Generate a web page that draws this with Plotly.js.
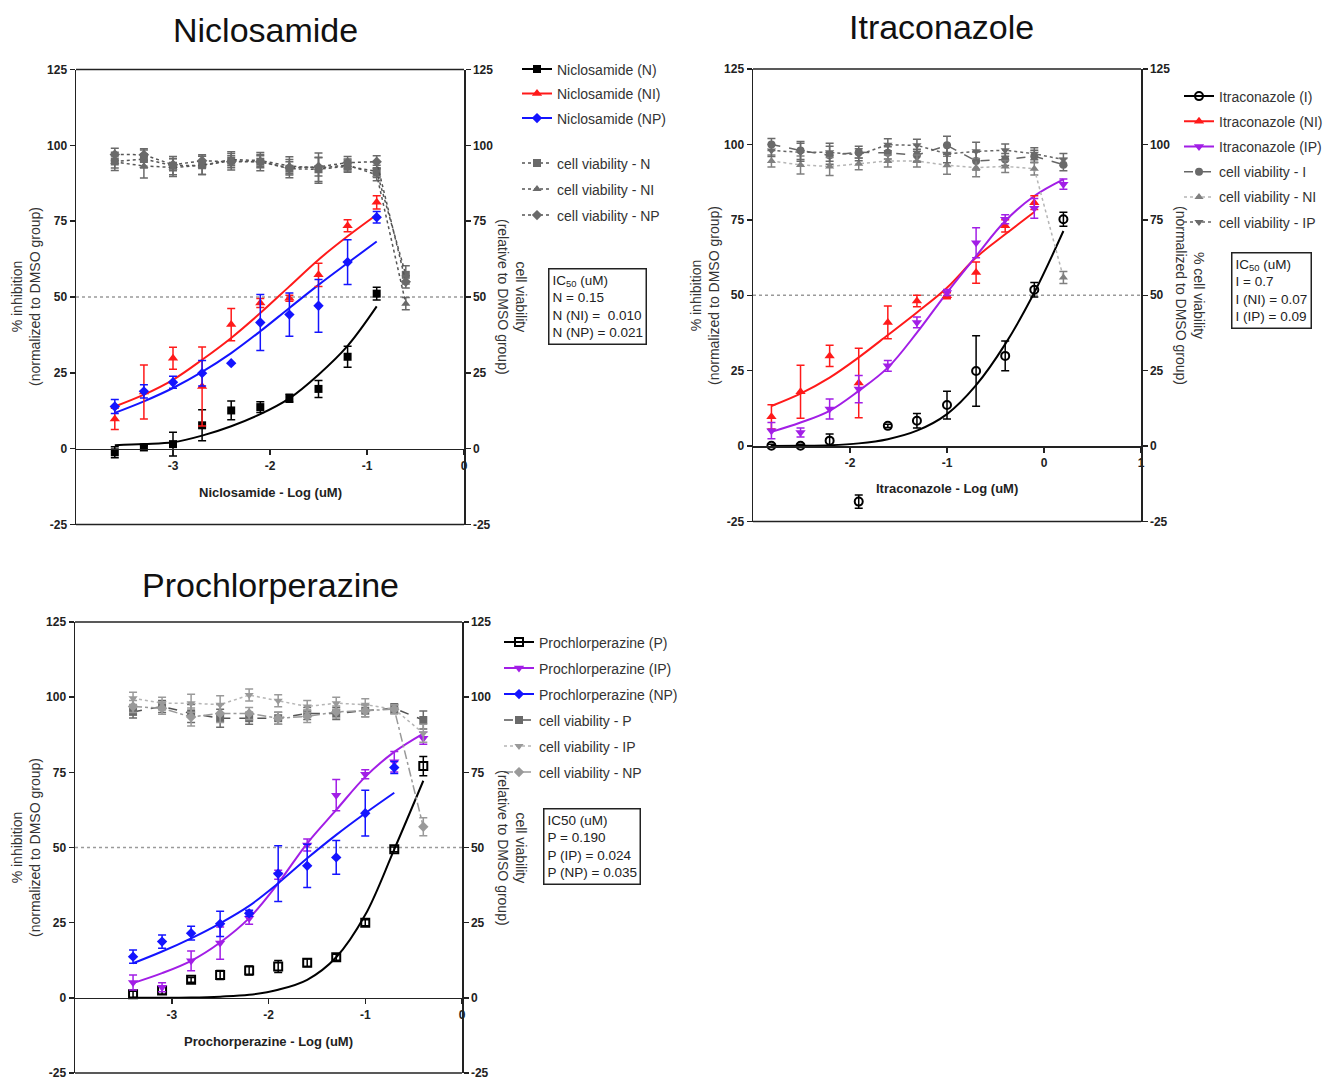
<!DOCTYPE html>
<html><head><meta charset="utf-8">
<script src="https://cdn.plot.ly/plotly-3.0.1.min.js"></script>
<style>body{margin:0;background:#fff}#chart{width:1333px;height:1084px}</style>
</head><body><div id="chart"></div>
<script>
// ---------------- Niclosamide ----------------
const nicX = [-3.6,-3.3,-3.0,-2.7,-2.4,-2.1,-1.8,-1.5,-1.2,-0.9];
const nicViabX = [-3.6,-3.3,-3.0,-2.7,-2.4,-2.1,-1.8,-1.5,-1.2,-0.9,-0.6];
const nicN = [-1.2,0.4,1.5,7.7,12.6,13.7,16.6,19.7,30.3,51.1];
const nicNErr = [1.8,0.6,3.9,5.1,3.1,1.8,1.3,2.8,3.5,2.1];
const nicNI = [9.8,18.7,29.8,20.5,40.9,48.0,49.6,57.3,73.5,81.2];
const nicNIErr = [3.5,8.9,3.6,13.0,5.3,1.5,1.0,3.8,2.0,2.2];
const nicNP = [13.9,18.9,21.9,24.9,28.2,41.6,44.2,47.1,61.5,76.3];
const nicNPErr = [2.3,2.2,2.0,4.2,0,9.2,7.1,8.7,7.4,1.9];
const nicNFit = [1.1,1.5,2.1,4.3,7.4,11.4,16.6,24.4,33.9,46.9];
const nicNIFit = [13.9,17.8,22.7,29.3,36.5,44.7,53.5,62.3,70.0,77.1];
const nicNPFit = [11.8,15.6,20.0,25.3,31.5,38.7,46.4,54.0,61.2,68.3];
const nicViabN = [94.7,95.5,93.3,93.4,94.9,94.6,92.3,92.1,93.1,91.4,57.3];
const nicViabNI = [94.5,93.2,92.7,93.4,95.3,95.0,93.2,92.5,93.5,90.3,47.8];
const nicViabNP = [97.0,96.9,93.6,94.9,94.6,94.6,92.6,92.9,94.3,94.6,55.0];
const nicViabNErr = [3,3,3,3,3,3,3,4,2,2,3];
const nicViabNIErr = [2,4,3,3,2,2,3,5,2,2,2];
const nicViabNPErr = [2,2,2,2,2,2,2,3,2,2,2];

// ---------------- Itraconazole ----------------
const itrX = [-2.81,-2.51,-2.21,-1.91,-1.61,-1.31,-1.0,-0.7,-0.4,-0.1,0.2];
const itrXNI = [-2.81,-2.51,-2.21,-1.91,-1.61,-1.31,-1.0,-0.7,-0.4,-0.1];
const itrI = [0.1,0.1,1.8,-18.4,6.7,8.4,13.6,24.9,29.9,51.8,75.2];
const itrIErr = [0.5,0.5,2.2,2.2,0.5,2.4,4.6,11.7,4.9,2.4,2.3];
const itrNI = [9.7,18.0,29.9,20.9,41.0,48.1,49.8,57.5,73.0,80.7];
const itrNIErr = [4.0,8.8,3.5,11.5,5.4,1.9,1.0,3.5,2.0,2.3];
const itrIP = [5.1,4.5,12.3,18.9,26.6,41.0,50.9,67.4,75.2,78.8,86.8];
const itrIPErr = [2.7,1.5,3.3,4.5,1.8,1.8,1.0,5.0,1.5,3.3,1.7];
const itrIFit = [0,0.1,0.3,0.9,2.3,5.1,10.6,20.2,33.8,50.9,71.3];
const itrNIFit = [13.3,17.4,22.7,29.4,36.8,44.3,52.5,62.5,70.2,77.6];
const itrIPFit = [4.7,7.8,11.7,18.3,26.0,37.6,50.9,63.0,74.6,82.9,88.4];
const itrViabI = [100.0,98.0,96.4,97.4,97.2,96.4,99.7,94.5,95.0,96.1,93.3];
const itrViabNI = [94.5,93.2,92.7,93.6,94.5,94.5,93.1,92.3,92.7,91.9,55.9];
const itrViabIP = [98.0,97.4,97.4,96.6,99.9,99.7,96.9,97.7,98.1,96.9,95.0];
const itrViabErr = [2,3,3,2,2,2,3,3,2,2,2];

// ---------------- Prochlorperazine ----------------
const proX = [-3.4,-3.1,-2.8,-2.5,-2.2,-1.9,-1.6,-1.3,-1.0,-0.7,-0.4];
const proXNP = [-3.4,-3.1,-2.8,-2.5,-2.2,-1.9,-1.6,-1.3,-1.0,-0.7];
const proP = [1.2,2.4,6.0,7.6,9.1,10.4,11.7,13.5,25.0,49.4,77.1];
const proPErr = [1.0,1.2,0.8,1.5,1.5,2.0,1.3,1.0,1.0,0.8,3.2];
const proIP = [5.1,3.5,12.3,18.2,26.5,40.9,50.8,67.4,74.4,78.5,86.3];
const proIPErr = [2.5,1.5,3.3,5.4,2.0,1.5,2.0,5.2,1.5,3.4,2.0];
const proNP = [13.7,18.7,21.5,24.6,28.1,41.3,43.9,46.7,61.4,76.6];
const proNPErr = [2.2,2.2,2.3,4.2,1.0,9.3,7.2,5.6,7.6,2.0];
const proPFit = [0,0,0.1,0.4,1.0,2.7,6.0,13.5,27.6,49.4,72.2];
const proIPFit = [4.9,8.2,12.3,18.4,26.5,38.1,51.4,62.5,73.5,81.8,87.9];
const proNPFit = [11.5,15.4,19.8,24.8,30.6,38.1,46.4,54.2,61.4,68.2];
const proViabP = [95.1,96.9,94.6,93.0,93.0,93.0,94.6,94.6,95.5,96.3,92.4];
const proViabIP = [99.6,98.0,98.0,97.5,100.7,98.8,96.9,98.0,97.5,96.0,88.0];
const proViabNP = [96.9,96.3,93.4,94.6,94.6,93.0,93.6,95.1,95.5,96.0,56.9];
const proViabErr = [2,2,3,3,2,2,2,2,2,1.5,3];

// tick values / labels
const yTicks = [-25,0,25,50,75,100,125];
const yTickText = ['-25','0','25','50','75','100','125'];
const xTicksA = [-3,-2,-1,0];
const xTickTextA = ['-3','-2','-1','0'];
const xTicksB = [-2,-1,0,1];
const xTickTextB = ['-2','-1','0','1'];

const W = 1333, H = 1084;
const FONT = 'Liberation Sans, Arial, sans-serif';

// points trace: interleave nulls so no connecting line but legend shows line+marker
function pts(x, y, err, name, color, symbol, size, xa, ya, legend, group, open){
  const X=[],Y=[],E=[];
  x.forEach((v,i)=>{X.push(v,v);Y.push(y[i],null);E.push(err[i],0);});
  return {type:'scatter', mode:'lines+markers', x:X, y:Y, name, xaxis:xa, yaxis:ya,
    legend, legendgroup:group, connectgaps:false,
    line:{color, width:2},
    marker:{color: open ? 'rgba(255,255,255,0)' : color, symbol, size, line:{color, width: open?2:0}},
    error_y:{type:'data', array:E, visible:true, color, thickness:1.5, width:4},
    hoverinfo:'skip'};
}
function fit(x, y, color, xa, ya){
  return {type:'scatter', mode:'lines', x, y, xaxis:xa, yaxis:ya, showlegend:false,
    line:{color, width:2, shape:'spline'}, hoverinfo:'skip'};
}
function viab(x, y, err, name, color, symbol, dash, lineColor, xa, ya, legend, group){
  return {type:'scatter', mode:'lines+markers', x, y, name, xaxis:xa, yaxis:ya, legend, legendgroup:group,
    line:{color:lineColor, width:1.5, dash},
    marker:{color, symbol, size:8},
    error_y:{type:'data', array:err, visible:true, color, thickness:1.5, width:4},
    hoverinfo:'skip'};
}

const RED='#ff1a1a', BLUE='#1414ff', PURPLE='#a21ee6', BLACK='#000000', G1='#6a6a6a', G2='#9a9a9a';

const data = [
  // panel 1
  fit(nicX, nicNFit, BLACK, 'x','y'),
  fit(nicX, nicNIFit, RED, 'x','y'),
  fit(nicX, nicNPFit, BLUE, 'x','y'),
  pts(nicX, nicN, nicNErr, 'Niclosamide (N)', BLACK, 'square', 8, 'x','y','legend','g1'),
  pts(nicX, nicNI, nicNIErr, 'Niclosamide (NI)', RED, 'triangle-up', 9, 'x','y','legend','g2'),
  pts(nicX, nicNP, nicNPErr, 'Niclosamide (NP)', BLUE, 'diamond', 8, 'x','y','legend','g3'),
  viab(nicViabX, nicViabN, nicViabNErr, 'cell viability - N', G1, 'square', 'dot', '#555', 'x','y2','legend4','g4'),
  viab(nicViabX, nicViabNI, nicViabNIErr, 'cell viability - NI', G1, 'triangle-up', 'dot', '#555', 'x','y2','legend4','g5'),
  viab(nicViabX, nicViabNP, nicViabNPErr, 'cell viability - NP', G1, 'diamond', 'dot', '#555', 'x','y2','legend4','g6'),
  // panel 2
  fit(itrX, itrIFit, BLACK, 'x2','y3'),
  fit(itrXNI, itrNIFit, RED, 'x2','y3'),
  fit(itrX, itrIPFit, PURPLE, 'x2','y3'),
  pts(itrX, itrI, itrIErr, 'Itraconazole (I)', BLACK, 'circle', 8, 'x2','y3','legend2','h1', true),
  pts(itrXNI, itrNI, itrNIErr, 'Itraconazole (NI)', RED, 'triangle-up', 9, 'x2','y3','legend2','h2'),
  pts(itrX, itrIP, itrIPErr, 'Itraconazole (IP)', PURPLE, 'triangle-down', 9, 'x2','y3','legend2','h3'),
  viab(itrX, itrViabI, itrViabErr, 'cell viability - I', G1, 'circle', 'dash', '#666', 'x2','y4','legend2','h4'),
  viab(itrX, itrViabNI, itrViabErr, 'cell viability - NI', '#808080', 'triangle-up', 'dot', '#b5b5b5', 'x2','y4','legend2','h5'),
  viab(itrX, itrViabIP, itrViabErr, 'cell viability - IP', G1, 'triangle-down', 'dot', '#666', 'x2','y4','legend2','h6'),
  // panel 3
  fit(proX, proPFit, BLACK, 'x3','y5'),
  fit(proX, proIPFit, PURPLE, 'x3','y5'),
  fit(proXNP, proNPFit, BLUE, 'x3','y5'),
  pts(proX, proP, proPErr, 'Prochlorperazine (P)', BLACK, 'square', 8, 'x3','y5','legend3','k1', true),
  pts(proX, proIP, proIPErr, 'Prochlorperazine (IP)', PURPLE, 'triangle-down', 9, 'x3','y5','legend3','k2'),
  pts(proXNP, proNP, proNPErr, 'Prochlorperazine (NP)', BLUE, 'diamond', 8, 'x3','y5','legend3','k3'),
  viab(proX, proViabP, proViabErr, 'cell viability - P', G1, 'square', 'dash', '#555', 'x3','y6','legend3','k4'),
  viab(proX, proViabIP, proViabErr, 'cell viability - IP', G2, 'triangle-down', 'dot', '#b5b5b5', 'x3','y6','legend3','k5'),
  viab(proX, proViabNP, proViabErr, 'cell viability - NP', G2, 'diamond', 'dashdot', '#999', 'x3','y6','legend3','k6'),
];

const tickFont = {family:FONT, size:12, color:'#222', weight:'bold'};
function xAxis(d0,d1,range,tickvals,ticktext,pos){
  return {domain:[d0/W,d1/W], range, tickvals, ticktext, ticks:'outside', ticklen:5, tickwidth:1.5, tickcolor:'#222',
    showline:true, linewidth:1.5, linecolor:'#222', zeroline:false, showgrid:false,
    anchor:'free', position:pos, tickfont:tickFont, fixedrange:true};
}
function yAxis(top,bot,anchor,side,overlay){
  const a = {domain:[1-bot/H,1-top/H], range:[-25,125], tickvals:yTicks, ticktext:yTickText, ticks:'outside', ticklen:5, tickwidth:1.5,
    tickcolor:'#222', showline:true, linewidth:1.5, linecolor:'#222', zeroline:false, showgrid:false,
    anchor, side, tickfont:tickFont, fixedrange:true};
  if (overlay) a.overlaying = overlay;
  return a;
}
function y0pos(top,bot){ const py = top + (bot-top)*125/150; return 1 - py/H; }

function frame(xd, yr){
  return [
    {type:'line', xref:xd, yref:yr, x0:0, x1:1, y0:50, y1:50, line:{color:'#9a9a9a', width:1.5, dash:'dot'}, layer:'below'},
    {type:'line', xref:xd, yref:yr+' domain', x0:0, x1:1, y0:1, y1:1, line:{color:'#222', width:1.5}},
    {type:'line', xref:xd, yref:yr+' domain', x0:0, x1:1, y0:0, y1:0, line:{color:'#222', width:1.5}},
  ];
}
function P(px,py){ return {x:px/W, y:1-py/H}; }
function ann(text, px, py, opts){
  return Object.assign({text, xref:'paper', yref:'paper', ...P(px,py), showarrow:false,
    xanchor:'center', yanchor:'middle'}, opts);
}
const titleFont = {family:FONT, size:34, color:'#111'};
const axTitleFont = {family:FONT, size:14, color:'#333'};
const xTitleFont = {family:FONT, size:13, color:'#222', weight:'bold'};
const boxFont = {family:FONT, size:13.5, color:'#222'};
function box(text, px, py){
  return {text, xref:'paper', yref:'paper', ...P(px,py), showarrow:false, xanchor:'left', yanchor:'top',
    align:'left', bordercolor:'#222', borderwidth:1.5, borderpad:3, bgcolor:'#fff', font:boxFont};
}
function leg(px,py,gap){
  return {x:px/W, y:1-py/H, xanchor:'left', yanchor:'top', bgcolor:'rgba(0,0,0,0)',
    font:{family:FONT, size:14, color:'#333'}, traceorder:'grouped', tracegroupgap:gap, itemclick:false};
}

const layout = {
  width:W, height:H, margin:{l:0,r:0,t:0,b:0}, paper_bgcolor:'#fff', plot_bgcolor:'rgba(0,0,0,0)',
  showlegend:true, hovermode:false,
  xaxis: xAxis(76,464,[-4,0],xTicksA,xTickTextA, y0pos(69.5,524.5)),
  yaxis: yAxis(69.5,524.5,'x','left'),
  yaxis2: yAxis(69.5,524.5,'x','right','y'),
  xaxis2: xAxis(753,1141,[-3,1],xTicksB,xTickTextB, y0pos(69,521.5)),
  yaxis3: yAxis(69,521.5,'x2','left'),
  yaxis4: yAxis(69,521.5,'x2','right','y3'),
  xaxis3: xAxis(75,462,[-4,0],xTicksA,xTickTextA, y0pos(622,1073)),
  yaxis5: yAxis(622,1073,'x3','left'),
  yaxis6: yAxis(622,1073,'x3','right','y5'),
  legend: leg(517,53.5,3.3),
  legend4: leg(517,147.5,4.8),
  legend2: leg(1179,80.5,4),
  legend3: leg(499,626.5,4.8),
  shapes: [...frame('x domain','y'), ...frame('x2 domain','y3'), ...frame('x3 domain','y5')],
  annotations: [
    ann('Niclosamide', 265, 30, {font:titleFont}),
    ann('Itraconazole', 942, 27, {font:titleFont}),
    ann('Prochlorperazine', 270, 585, {font:titleFont}),
    ann('% inhibition<br>(normalized to DMSO group)', 26, 297, {textangle:-90, font:axTitleFont}),
    ann('% inhibition<br>(normalized to DMSO group)', 705, 296, {textangle:-90, font:axTitleFont}),
    ann('% inhibition<br>(normalized to DMSO group)', 26, 848, {textangle:-90, font:axTitleFont}),
    ann('cell viability<br>(relative to DMSO group)', 512, 297, {textangle:90, font:axTitleFont}),
    ann('% cell viability<br>(normalized to DMSO group)', 1190, 295, {textangle:90, font:axTitleFont}),
    ann('cell viability<br>(relative to DMSO group)', 512, 848, {textangle:90, font:axTitleFont}),
    ann('Niclosamide - Log (uM)', 270, 492, {font:xTitleFont}),
    ann('Itraconazole - Log (uM)', 947, 488, {font:xTitleFont}),
    ann('Prochorperazine - Log (uM)', 268, 1041, {font:xTitleFont}),
    box('IC<sub>50</sub> (uM)<br>N = 0.15<br>N (NI) =  0.010<br>N (NP) = 0.021', 548, 268),
    box('IC<sub>50</sub> (uM)<br>I = 0.7<br>I (NI) = 0.07<br>I (IP) = 0.09', 1231, 252),
    box('IC50 (uM)<br>P = 0.190<br>P (IP) = 0.024<br>P (NP) = 0.035', 543, 808),
  ]
};
Plotly.newPlot('chart', data, layout, {staticPlot:true, displayModeBar:false});
</script></body></html>
